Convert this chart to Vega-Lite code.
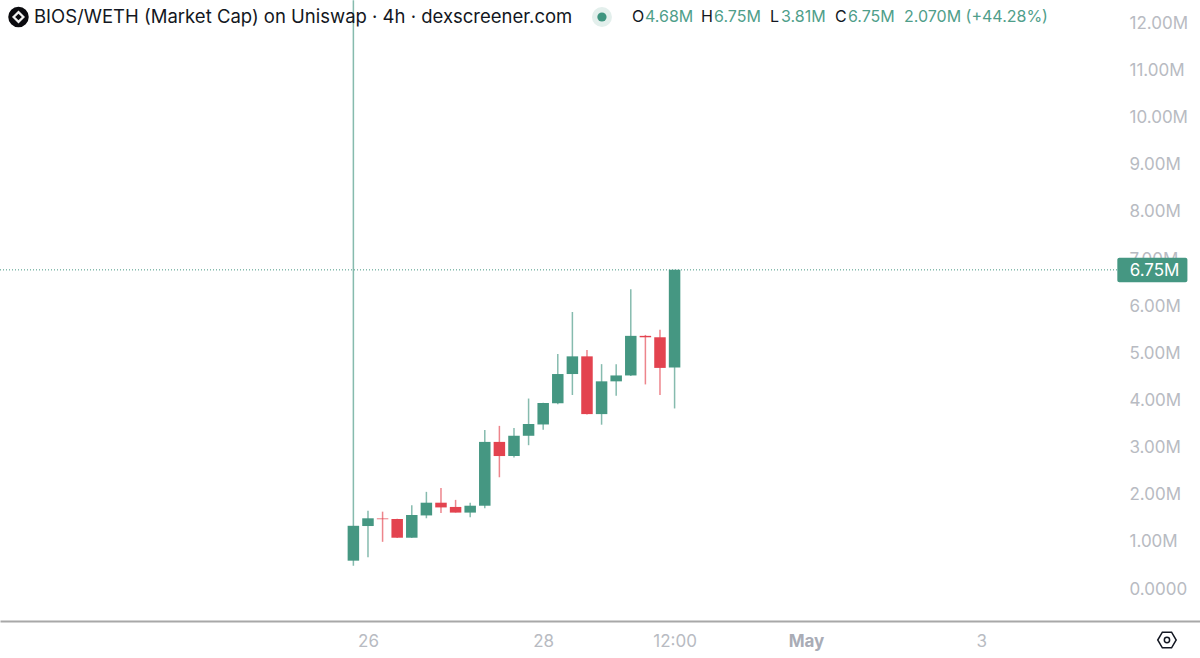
{
  "$schema": "https://vega.github.io/schema/vega-lite/v6.json",
  "width": 1200,
  "height": 658,
  "autosize": "none",
  "padding": 0,
  "background": "white",
  "config": {"view": {"stroke": null}, "text": {"font": "Inter"}},
  "datasets": {
    "candles": [
      {"time": "2025-04-25T20:00:00Z", "open": 0.58, "high": 12.47, "low": 0.47, "close": 1.32},
      {"time": "2025-04-26T00:00:00Z", "open": 1.315, "high": 1.64, "low": 0.65, "close": 1.479},
      {"time": "2025-04-26T04:00:00Z", "open": 1.475, "high": 1.62, "low": 0.98, "close": 1.46},
      {"time": "2025-04-26T08:00:00Z", "open": 1.464, "high": 1.47, "low": 1.06, "close": 1.067},
      {"time": "2025-04-26T12:00:00Z", "open": 1.067, "high": 1.755, "low": 1.06, "close": 1.549},
      {"time": "2025-04-26T16:00:00Z", "open": 1.54, "high": 2.04, "low": 1.48, "close": 1.81},
      {"time": "2025-04-26T20:00:00Z", "open": 1.81, "high": 2.12, "low": 1.59, "close": 1.71},
      {"time": "2025-04-27T00:00:00Z", "open": 1.72, "high": 1.87, "low": 1.6, "close": 1.6},
      {"time": "2025-04-27T04:00:00Z", "open": 1.6, "high": 1.81, "low": 1.5, "close": 1.746},
      {"time": "2025-04-27T08:00:00Z", "open": 1.746, "high": 3.35, "low": 1.69, "close": 3.1},
      {"time": "2025-04-27T12:00:00Z", "open": 3.1, "high": 3.44, "low": 2.35, "close": 2.8},
      {"time": "2025-04-27T16:00:00Z", "open": 2.8, "high": 3.395, "low": 2.77, "close": 3.23},
      {"time": "2025-04-27T20:00:00Z", "open": 3.23, "high": 4.02, "low": 3.03, "close": 3.48},
      {"time": "2025-04-28T00:00:00Z", "open": 3.47, "high": 3.93, "low": 3.36, "close": 3.925},
      {"time": "2025-04-28T04:00:00Z", "open": 3.92, "high": 4.965, "low": 3.9, "close": 4.54},
      {"time": "2025-04-28T08:00:00Z", "open": 4.54, "high": 5.856, "low": 4.095, "close": 4.915},
      {"time": "2025-04-28T12:00:00Z", "open": 4.915, "high": 5.05, "low": 3.68, "close": 3.69},
      {"time": "2025-04-28T16:00:00Z", "open": 3.69, "high": 4.75, "low": 3.465, "close": 4.385},
      {"time": "2025-04-28T20:00:00Z", "open": 4.385, "high": 4.75, "low": 4.08, "close": 4.51},
      {"time": "2025-04-29T00:00:00Z", "open": 4.51, "high": 6.34, "low": 4.5, "close": 5.35},
      {"time": "2025-04-29T04:00:00Z", "open": 5.35, "high": 5.37, "low": 4.32, "close": 5.32},
      {"time": "2025-04-29T08:00:00Z", "open": 5.32, "high": 5.48, "low": 4.095, "close": 4.67},
      {"time": "2025-04-29T12:00:00Z", "open": 4.68, "high": 6.75, "low": 3.81, "close": 6.75}
    ],
    "readout": [
      {"time": "2025-04-29T00:20:00Z", "price": 12.115, "text": "O", "kind": "key"},
      {"time": "2025-04-29T03:53:00Z", "price": 12.115, "text": "4.68M", "kind": "val"},
      {"time": "2025-04-29T19:14:00Z", "price": 12.115, "text": "H", "kind": "key"},
      {"time": "2025-04-29T22:48:00Z", "price": 12.115, "text": "6.75M", "kind": "val"},
      {"time": "2025-04-30T14:08:00Z", "price": 12.115, "text": "L", "kind": "key"},
      {"time": "2025-04-30T17:09:00Z", "price": 12.115, "text": "3.81M", "kind": "val"},
      {"time": "2025-05-01T07:57:00Z", "price": 12.115, "text": "C", "kind": "key"},
      {"time": "2025-05-01T11:30:00Z", "price": 12.115, "text": "6.75M", "kind": "val"},
      {"time": "2025-05-02T02:51:00Z", "price": 12.115, "text": "2.070M (+44.28%)", "kind": "val"}
    ]
  },
  "layer": [
    {
      "data": {"name": "candles"},
      "mark": {"type": "rule", "strokeWidth": 1.5, "opacity": 0.65},
      "encoding": {
        "x": {
          "field": "time",
          "type": "temporal",
          "title": null,
          "scale": {
            "type": "utc",
            "padding": 0,
            "domain": [
              {"year": 2025, "month": 4, "date": 21, "hours": 19, "minutes": 11, "utc": true},
              {"year": 2025, "month": 5, "date": 5, "hours": 11, "minutes": 57, "utc": true}
            ]
          },
          "axis": {
            "orient": "bottom",
            "offset": -37,
            "grid": false,
            "ticks": false,
            "domainColor": "#a8a8a8",
            "domainWidth": 2,
            "labelPadding": 12,
            "labelFont": "Inter",
            "labelFontSize": 17,
            "labelColor": {"condition": {"test": "utcdate(datum.value) == 1", "value": "#a9acb6"}, "value": "#b8bbc2"},
            "labelFontWeight": {"condition": {"test": "utcdate(datum.value) == 1", "value": 700}, "value": 400},
            "labelOverlap": false,
            "values": [
              {"year": 2025, "month": 4, "date": 26, "utc": true},
              {"year": 2025, "month": 4, "date": 28, "utc": true},
              {"year": 2025, "month": 4, "date": 29, "hours": 12, "utc": true},
              {"year": 2025, "month": 5, "date": 1, "utc": true},
              {"year": 2025, "month": 5, "date": 3, "utc": true}
            ],
            "labelExpr": "utchours(datum.value) == 12 ? '12:00' : (utcdate(datum.value) == 1 ? 'May' : '' + utcdate(datum.value))"
          }
        },
        "y": {
          "field": "low",
          "type": "quantitative",
          "title": null,
          "scale": {"domain": [-1.485, 12.476], "nice": false, "zero": false},
          "axis": {
            "orient": "right",
            "offset": -83,
            "grid": false,
            "ticks": false,
            "domain": false,
            "labelPadding": 12,
            "labelOffset": 1,
            "labelFont": "Inter",
            "labelFontSize": 17,
            "labelColor": "#b8bbc2",
            "labelAlign": "left",
            "labelOverlap": false,
            "values": [0, 1, 2, 3, 4, 5, 6, 7, 8, 9, 10, 11, 12],
            "labelExpr": "datum.value == 0 ? '0.0000' : format(datum.value, '.2f') + 'M'"
          }
        },
        "y2": {"field": "high"},
        "color": {
          "condition": {"test": "datum.close >= datum.open", "value": "#459782"},
          "value": "#e3434f"
        }
      }
    },
    {
      "data": {"name": "candles"},
      "mark": {"type": "bar", "size": 11.5},
      "encoding": {
        "x": {"field": "time", "type": "temporal"},
        "y": {"field": "open", "type": "quantitative"},
        "y2": {"field": "close"},
        "color": {
          "condition": {"test": "datum.close >= datum.open", "value": "#459782"},
          "value": "#e3434f"
        }
      }
    },
    {
      "data": {"values": [{"time": "2025-04-21T19:11:00Z", "time2": "2025-05-04T13:18:00Z", "price": 6.75}]},
      "mark": {"type": "rule", "color": "#459782", "strokeWidth": 1, "strokeDash": [1, 2]},
      "encoding": {
        "x": {"field": "time", "type": "temporal"},
        "x2": {"field": "time2"},
        "y": {"field": "price", "type": "quantitative"}
      }
    },
    {
      "data": {"values": [{"time": "2025-05-04T13:18:00Z", "time2": "2025-05-05T08:30:00Z", "price": 7.008, "price2": 6.486}]},
      "mark": {"type": "rect", "color": "#459782", "cornerRadius": 2},
      "encoding": {
        "x": {"field": "time", "type": "temporal"},
        "x2": {"field": "time2"},
        "y": {"field": "price", "type": "quantitative"},
        "y2": {"field": "price2"}
      }
    },
    {
      "data": {"values": [{"time": "2025-05-04T23:30:00Z", "price": 6.75, "text": "6.75M"}]},
      "mark": {"type": "text", "color": "white", "fontSize": 17, "align": "center", "baseline": "middle", "dy": 1},
      "encoding": {
        "x": {"field": "time", "type": "temporal"},
        "y": {"field": "price", "type": "quantitative"},
        "text": {"field": "text"}
      }
    },
    {
      "data": {"values": [{"time": "2025-04-22T04:30:00Z", "price": 12.115, "text": "BIOS/WETH (Market Cap) on Uniswap · 4h · dexscreener.com"}]},
      "mark": {"type": "text", "color": "#131722", "fontSize": 18.5, "align": "left", "baseline": "middle"},
      "encoding": {
        "x": {"field": "time", "type": "temporal"},
        "y": {"field": "price", "type": "quantitative"},
        "text": {"field": "text"}
      }
    },
    {
      "data": {"name": "readout"},
      "mark": {"type": "text", "fontSize": 16, "align": "left", "baseline": "middle"},
      "encoding": {
        "x": {"field": "time", "type": "temporal"},
        "y": {"field": "price", "type": "quantitative"},
        "text": {"field": "text"},
        "color": {
          "field": "kind",
          "type": "nominal",
          "scale": {"domain": ["key", "val"], "range": ["#131722", "#4f9e8a"]},
          "legend": null
        }
      }
    },
    {
      "data": {"values": [{"time": "2025-04-28T16:06:00Z", "price": 12.115}]},
      "mark": {"type": "point", "shape": "circle", "filled": true, "opacity": 1, "size": 400, "color": "#e3efec"},
      "encoding": {
        "x": {"field": "time", "type": "temporal"},
        "y": {"field": "price", "type": "quantitative"}
      }
    },
    {
      "data": {"values": [{"time": "2025-04-28T16:06:00Z", "price": 12.115}]},
      "mark": {"type": "point", "shape": "circle", "filled": true, "opacity": 1, "size": 85, "color": "#3f9580"},
      "encoding": {
        "x": {"field": "time", "type": "temporal"},
        "y": {"field": "price", "type": "quantitative"}
      }
    },
    {
      "data": {"values": [{"time": "2025-04-22T00:15:00Z", "price": 12.115}]},
      "mark": {"type": "point", "shape": "circle", "filled": true, "opacity": 1, "size": 420, "color": "#0b0b0f"},
      "encoding": {
        "x": {"field": "time", "type": "temporal"},
        "y": {"field": "price", "type": "quantitative"}
      }
    },
    {
      "data": {"values": [{"time": "2025-04-22T00:15:00Z", "price": 12.115}]},
      "mark": {"type": "point", "shape": "diamond", "filled": true, "opacity": 1, "size": 170, "color": "#f2f2f2"},
      "encoding": {
        "x": {"field": "time", "type": "temporal"},
        "y": {"field": "price", "type": "quantitative"}
      }
    },
    {
      "data": {"values": [{"time": "2025-04-22T00:15:00Z", "price": 12.115}]},
      "mark": {"type": "point", "shape": "diamond", "filled": true, "opacity": 1, "size": 45, "color": "#0b0b0f"},
      "encoding": {
        "x": {"field": "time", "type": "temporal"},
        "y": {"field": "price", "type": "quantitative"}
      }
    },
    {
      "data": {"values": [{"time": "2025-05-05T02:54:00Z", "price": -1.103}]},
      "mark": {
        "type": "point",
        "shape": "M-1,0L-0.5,-0.85L0.5,-0.85L1,0L0.5,0.85L-0.5,0.85Z",
        "filled": false,
        "opacity": 1,
        "size": 340,
        "color": "#131722",
        "strokeWidth": 1.5
      },
      "encoding": {
        "x": {"field": "time", "type": "temporal"},
        "y": {"field": "price", "type": "quantitative"}
      }
    },
    {
      "data": {"values": [{"time": "2025-05-05T02:54:00Z", "price": -1.103}]},
      "mark": {"type": "point", "shape": "circle", "filled": false, "opacity": 1, "size": 28, "color": "#131722", "strokeWidth": 1.5},
      "encoding": {
        "x": {"field": "time", "type": "temporal"},
        "y": {"field": "price", "type": "quantitative"}
      }
    }
  ]
}
